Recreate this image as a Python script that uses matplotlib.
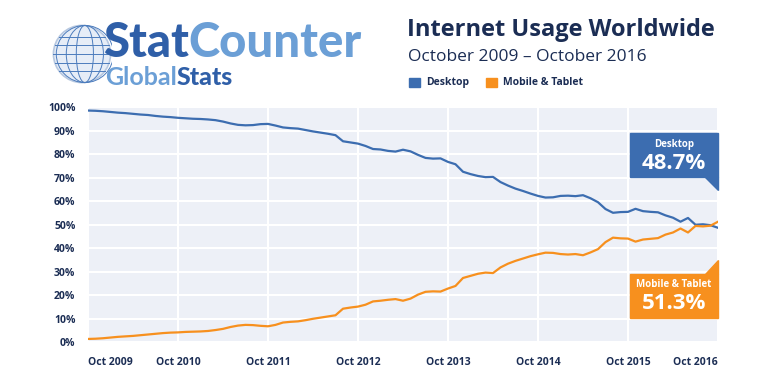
import numpy as np
import matplotlib
matplotlib.use('Agg')
import matplotlib.pyplot as plt
from matplotlib.patches import Rectangle, Polygon, Circle, Ellipse

# monthly share, Oct 2009 .. Oct 2016
desktop = [98.7, 98.6, 98.4, 98.1, 97.8, 97.6, 97.3, 97.0, 96.8, 96.4, 96.1, 95.9,
           95.6, 95.4, 95.2, 95.1, 94.9, 94.6, 94.0, 93.2, 92.6, 92.4, 92.5, 92.9,
           93.0, 92.3, 91.5, 91.2, 91.0, 90.4, 89.8, 89.3, 88.8, 88.2, 85.6, 85.1,
           84.6, 83.6, 82.3, 82.1, 81.5, 81.2, 82.0, 81.3, 79.8, 78.5, 78.2, 78.3,
           76.8, 75.8, 72.6, 71.6, 70.8, 70.3, 70.4, 68.2, 66.7, 65.4, 64.4, 63.3,
           62.3, 61.6, 61.7, 62.3, 62.4, 62.2, 62.6, 61.3, 59.6, 56.7, 55.1, 55.4,
           55.5, 56.8, 55.8, 55.5, 55.3, 54.0, 53.0, 51.3, 52.9, 50.0, 50.2, 49.8,
           48.7]
mobile = [1.3, 1.4, 1.6, 1.9, 2.2, 2.4, 2.6, 2.9, 3.2, 3.5, 3.8, 4.0,
          4.1, 4.3, 4.4, 4.5, 4.7, 5.1, 5.6, 6.4, 7.0, 7.3, 7.2, 6.9,
          6.7, 7.3, 8.3, 8.6, 8.8, 9.3, 9.9, 10.4, 10.9, 11.4, 14.2, 14.7,
          15.1, 15.9, 17.3, 17.6, 18.0, 18.3, 17.6, 18.5, 20.2, 21.4, 21.6, 21.5,
          22.8, 23.9, 27.3, 28.2, 29.1, 29.6, 29.4, 31.8, 33.4, 34.6, 35.6, 36.6,
          37.4, 38.1, 38.0, 37.5, 37.3, 37.5, 37.0, 38.2, 39.6, 42.6, 44.5, 44.2,
          44.1, 42.8, 43.7, 44.0, 44.3, 45.8, 46.7, 48.4, 46.7, 49.5, 49.3, 49.6,
          51.3]
tick_months = [0, 12, 24, 36, 48, 60, 72, 84]
tick_labels = ['Oct 2009', 'Oct 2010', 'Oct 2011', 'Oct 2012',
               'Oct 2013', 'Oct 2014', 'Oct 2015', 'Oct 2016']
y_ticks = [0, 10, 20, 30, 40, 50, 60, 70, 80, 90, 100]

BLUE = '#3c6db0'
ORANGE = '#f7901e'
NAVY = '#1b2d54'
plt.rcParams['font.family'] = ['Open Sans', 'DejaVu Sans']

fig = plt.figure(figsize=(7.7, 3.85), dpi=100)
W, H = 770, 385

def px(x0, y0, x1, y1):
    return [x0 / W, 1 - y1 / H, (x1 - x0) / W, (y1 - y0) / H]

ax = fig.add_axes(px(88, 107.5, 718, 342))
ax.set_facecolor('#edf0f7')
months = np.arange(len(desktop))
ax.plot(months, desktop, color=BLUE, lw=1.6, zorder=3)
ax.plot(months, mobile, color=ORANGE, lw=1.6, zorder=3)
ax.set_xlim(0, 84)
ax.set_ylim(0, 100)
ax.set_yticks(y_ticks)
ax.set_yticklabels([f'{v}%' for v in y_ticks])
ax.set_xticks(tick_months)
ax.set_xticklabels(tick_labels)
ax.grid(True, color='white', lw=1.5)
ax.set_axisbelow(True)
for s in ax.spines.values():
    s.set_visible(False)
ax.tick_params(length=0, labelsize=7.5, labelcolor=NAVY)
ax.tick_params(axis='y', pad=9)
ax.tick_params(axis='x', pad=11)
for lab in ax.get_xticklabels() + ax.get_yticklabels():
    lab.set_fontweight('bold')
xl = ax.get_xticklabels()
xl[0].set_ha('left')
xl[-1].set_ha('right')

# callouts
tr = ax.transAxes
ax.add_patch(Rectangle((0.86, 0.703), 0.14, 0.187, transform=tr, color=BLUE, zorder=5, clip_on=False))
ax.add_patch(Polygon([(0.979, 0.704), (1.0, 0.704), (1.0, 0.647)], transform=tr, color=BLUE, zorder=5, clip_on=False))
ax.text(0.93, 0.843, 'Desktop', transform=tr, ha='center', va='center', color='white',
        fontsize=7, fontweight='bold', zorder=6)
ax.text(0.93, 0.763, f'{desktop[-1]}%', transform=tr, ha='center', va='center', color='white',
        fontsize=16, fontweight='bold', zorder=6)
ax.add_patch(Rectangle((0.86, 0.103), 0.14, 0.189, transform=tr, color=ORANGE, zorder=5, clip_on=False))
ax.add_patch(Polygon([(0.979, 0.291), (1.0, 0.291), (1.0, 0.349)], transform=tr, color=ORANGE, zorder=5, clip_on=False))
ax.text(0.93, 0.247, 'Mobile & Tablet', transform=tr, ha='center', va='center', color='white',
        fontsize=7, fontweight='bold', zorder=6)
ax.text(0.93, 0.166, f'{mobile[-1]}%', transform=tr, ha='center', va='center', color='white',
        fontsize=16, fontweight='bold', zorder=6)

# title block
fig.text(407 / W, 1 - 30 / H, 'Internet Usage Worldwide', fontsize=17, fontweight='bold',
         color=NAVY, va='center', ha='left')
fig.text(408 / W, 1 - 57 / H, 'October 2009 \u2013 October 2016', fontsize=12.5,
         color=NAVY, va='center', ha='left')
fig.patches.append(Rectangle((409 / W, 1 - 87 / H), 11 / W, 9 / H, transform=fig.transFigure, color=BLUE))
fig.text(426 / W, 1 - 82.5 / H, 'Desktop', fontsize=7.5, fontweight='bold', color=NAVY, va='center')
fig.patches.append(Rectangle((486 / W, 1 - 87 / H), 11 / W, 9 / H, transform=fig.transFigure, color=ORANGE))
fig.text(503 / W, 1 - 82.5 / H, 'Mobile & Tablet', fontsize=7.5, fontweight='bold', color=NAVY, va='center')

# logo
gax = fig.add_axes(px(52, 24, 112, 84))
gax.set_xlim(-1.05, 1.05)
gax.set_ylim(-1.05, 1.05)
gax.set_aspect('equal')
gax.axis('off')
gax.add_patch(Circle((0, 0), 1, facecolor='#e6edf7', edgecolor='#b7c8e0', lw=1.2))
for w in [0.3, 0.65, 1.0]:
    gax.add_patch(Ellipse((0.1, 0), w * 2, 2, fill=False, edgecolor='#4c7cbd', lw=0.7))
for yy in [-0.6, -0.3, 0, 0.3, 0.6]:
    hw = np.sqrt(1 - yy ** 2)
    gax.plot([-hw, hw], [yy, yy], color='#4c7cbd', lw=0.7)

r = fig.canvas.get_renderer()
t1 = fig.text(103 / W, 1 - 57 / H, 'Stat', fontsize=34, fontweight='black', family='Lato',
              color='#2f5fa8', va='baseline')
bb = t1.get_window_extent(r)
fig.text(bb.x1 / W, 1 - 57 / H, 'Counter', fontsize=34, fontweight='black', family='Lato',
         color='#6b9fd6', va='baseline')
t2 = fig.text(105 / W, 1 - 85 / H, 'Global', fontsize=18, fontweight='bold', family='Lato',
              color='#6b9fd6', va='baseline')
bb = t2.get_window_extent(r)
fig.text(bb.x1 / W, 1 - 85 / H, 'Stats', fontsize=18, fontweight='black', family='Lato',
         color='#2f5fa8', va='baseline')

plt.savefig('out.png', dpi=100)
